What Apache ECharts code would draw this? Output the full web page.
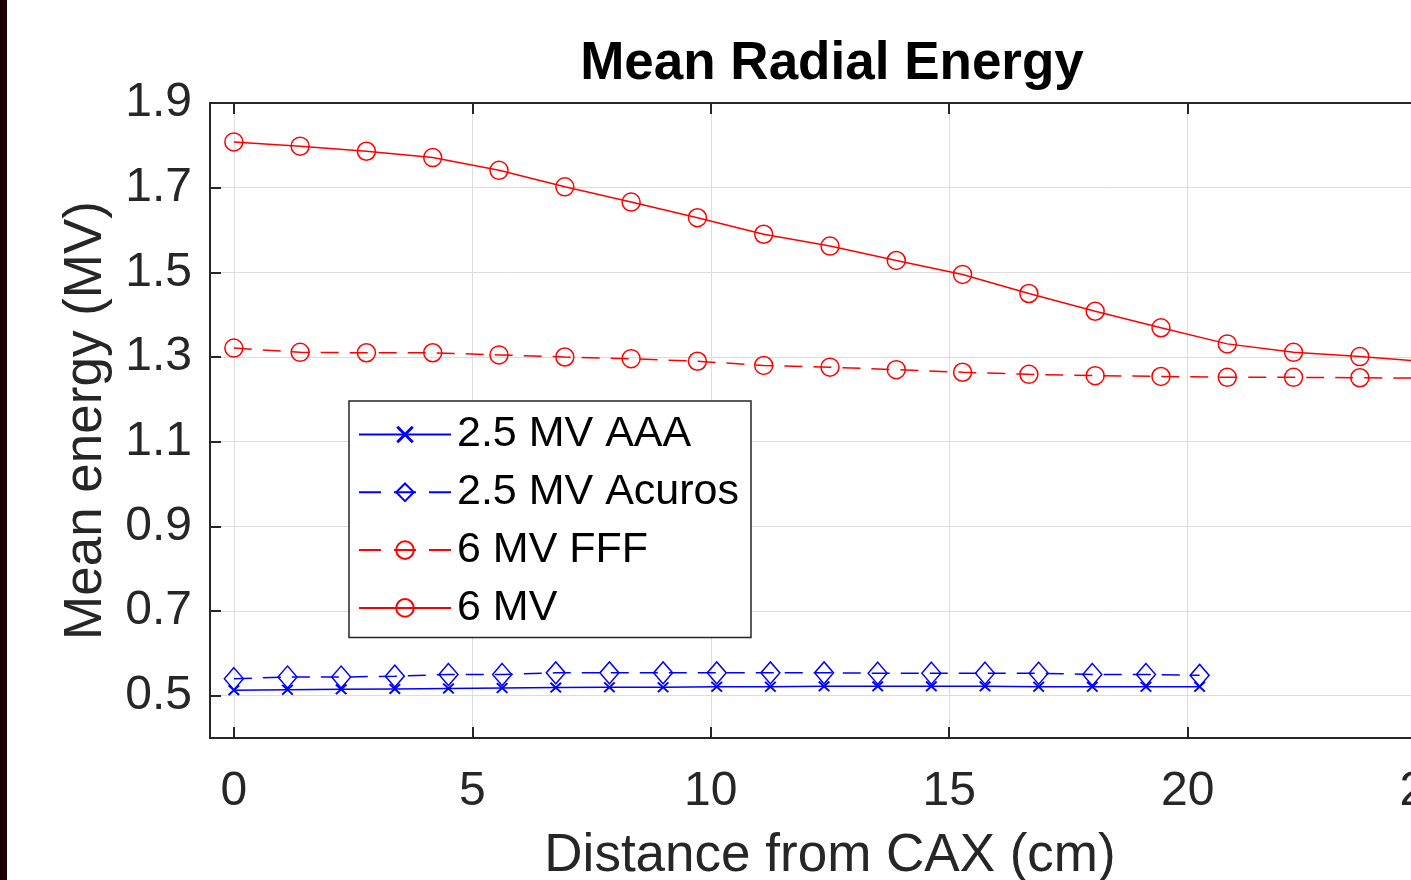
<!DOCTYPE html>
<html>
<head>
<meta charset="utf-8">
<script src="https://cdn.jsdelivr.net/npm/echarts@6/dist/echarts.min.js"></script>
<style>
  html, body { margin: 0; padding: 0; background: #fff; }
  #chart { width: 1411px; height: 880px; }
</style>
</head>
<body>
<div id="chart"></div>
<script>
// distance from CAX (cm) for each set of runs
const dist6MV = [0, 1.39, 2.78, 4.17, 5.56, 6.94, 8.33, 9.72, 11.11, 12.5, 13.89, 15.28, 16.67, 18.06, 19.44, 20.83, 22.22, 23.61, 25.0];
const dist25MV = [0, 1.125, 2.25, 3.375, 4.5, 5.625, 6.75, 7.875, 9.0, 10.125, 11.25, 12.375, 13.5, 14.625, 15.75, 16.875, 18.0, 19.125, 20.25];

// mean energy (MV)
const aaa25 = [0.513, 0.514, 0.515, 0.516, 0.517, 0.518, 0.519, 0.520, 0.520, 0.521, 0.521, 0.522, 0.522, 0.522, 0.522, 0.521, 0.521, 0.521, 0.521];
const acuros25 = [0.540, 0.544, 0.544, 0.546, 0.550, 0.550, 0.554, 0.554, 0.554, 0.554, 0.554, 0.554, 0.553, 0.553, 0.553, 0.553, 0.550, 0.550, 0.548];
const fff6 = [1.321, 1.311, 1.310, 1.310, 1.305, 1.300, 1.296, 1.290, 1.280, 1.276, 1.270, 1.264, 1.259, 1.256, 1.254, 1.252, 1.252, 1.251, 1.250];
const mv6 = [1.808, 1.798, 1.786, 1.771, 1.741, 1.702, 1.666, 1.629, 1.590, 1.562, 1.528, 1.495, 1.450, 1.408, 1.369, 1.331, 1.311, 1.301, 1.289];

const seriesNames = ['2.5 MV AAA', '2.5 MV Acuros', '6 MV FFF', '6 MV'];
const xTicks = [0, 5, 10, 15, 20, 25];
const yTicks = [0.5, 0.7, 0.9, 1.1, 1.3, 1.5, 1.7, 1.9];

const FONT = "'Liberation Sans', Arial, Helvetica, sans-serif";
const AX = '#262626';
const BLUE = '#0000ff';
const RED = '#ff0000';
const CROSS = 'path://M0,1.2 L1.2,0 L10,8.8 L8.8,10 Z M8.8,0 L10,1.2 L1.2,10 L0,8.8 Z';

function pairs(xs, ys) {
  return xs.map((x, i) => [x, ys[i]]);
}

const chart = echarts.init(document.getElementById('chart'), null, { renderer: 'canvas' });

const option = {
  animation: false,
  backgroundColor: '#fff',
  title: {
    text: 'Mean Radial Energy',
    left: 827,
    top: 33,
    textAlign: 'center',
    textStyle: { fontFamily: FONT, fontSize: 53, fontWeight: 'bold', color: '#000' }
  },
  graphic: [{
    type: 'rect',
    shape: { x: 0, y: 0, width: 7, height: 880 },
    style: { fill: '#1a0003' },
    z: 100
  }],
  grid: {
    left: 210,
    top: 103,
    width: 1240,
    height: 635,
    containLabel: false,
    outerBoundsMode: 'none'
  },
  legend: {
    orient: 'vertical',
    left: 349,
    top: 401,
    padding: [12, 12, 8, 9],
    itemGap: 14.8,
    itemWidth: 92,
    itemHeight: 22,
    selectedMode: false,
    backgroundColor: '#fff',
    borderColor: AX,
    borderWidth: 1.5,
    textStyle: { fontFamily: FONT, fontSize: 43, lineHeight: 43, color: '#000', padding: [0, 0, 0, 1] },
    data: [
      { name: seriesNames[0] },
      { name: seriesNames[1], lineStyle: { type: [22, 13] } },
      { name: seriesNames[2], lineStyle: { type: [22, 13] } },
      { name: seriesNames[3] }
    ]
  },
  xAxis: [{
    type: 'value',
    min: -0.5,
    max: 25.5,
    position: 'bottom',
    name: 'Distance from CAX (cm)',
    nameLocation: 'middle',
    nameGap: 92,
    nameTextStyle: { fontFamily: FONT, fontSize: 53, color: AX },
    axisLine: { show: true, onZero: false, lineStyle: { color: AX, width: 2 } },
    axisTick: { show: true, inside: true, length: 11, customValues: xTicks, lineStyle: { color: AX, width: 2 } },
    axisLabel: { customValues: xTicks, margin: 30, fontFamily: FONT, fontSize: 48, color: AX },
    splitLine: { show: true, lineStyle: { color: '#dcdcdc', width: 1 } }
  }, {
    type: 'value',
    min: -0.5,
    max: 25.5,
    position: 'top',
    axisLine: { show: true, onZero: false, lineStyle: { color: AX, width: 2 } },
    axisTick: { show: true, inside: true, length: 11, customValues: xTicks, lineStyle: { color: AX, width: 2 } },
    axisLabel: { show: false },
    splitLine: { show: false }
  }],
  yAxis: [{
    type: 'value',
    min: 0.4,
    max: 1.9,
    name: 'Mean energy (MV)',
    nameLocation: 'middle',
    nameGap: 97,
    nameTextStyle: { fontFamily: FONT, fontSize: 53, color: AX },
    axisLine: { show: true, onZero: false, lineStyle: { color: AX, width: 2 } },
    axisTick: { show: true, inside: true, length: 11, customValues: yTicks, lineStyle: { color: AX, width: 2 } },
    axisLabel: {
      customValues: yTicks,
      margin: 18,
      fontFamily: FONT,
      fontSize: 48,
      color: AX,
      padding: [4, 0, 0, 0],
      formatter: v => v.toFixed(1)
    },
    splitLine: { show: true, lineStyle: { color: '#dcdcdc', width: 1 } }
  }],
  series: [{
    name: seriesNames[0],
    type: 'line',
    data: pairs(dist25MV, aaa25),
    symbol: CROSS,
    symbolSize: [12, 11],
    lineStyle: { color: BLUE, width: 1.5 },
    itemStyle: { color: BLUE },
    z: 2
  }, {
    name: seriesNames[1],
    type: 'line',
    data: pairs(dist25MV, acuros25),
    symbol: 'diamond',
    symbolSize: [19, 22],
    lineStyle: { color: BLUE, width: 1.5, type: [18, 11] },
    itemStyle: { color: 'rgba(0,0,0,0)', borderColor: BLUE, borderWidth: 1.5 },
    z: 3
  }, {
    name: seriesNames[2],
    type: 'line',
    data: pairs(dist6MV, fff6),
    symbol: 'circle',
    symbolSize: 18,
    lineStyle: { color: RED, width: 1.5, type: [18, 11] },
    itemStyle: { color: 'rgba(0,0,0,0)', borderColor: RED, borderWidth: 1.5 },
    z: 4
  }, {
    name: seriesNames[3],
    type: 'line',
    data: pairs(dist6MV, mv6),
    symbol: 'circle',
    symbolSize: 18,
    lineStyle: { color: RED, width: 1.5 },
    itemStyle: { color: 'rgba(0,0,0,0)', borderColor: RED, borderWidth: 1.5 },
    z: 5
  }]
};

chart.setOption(option);
</script>
</body>
</html>
